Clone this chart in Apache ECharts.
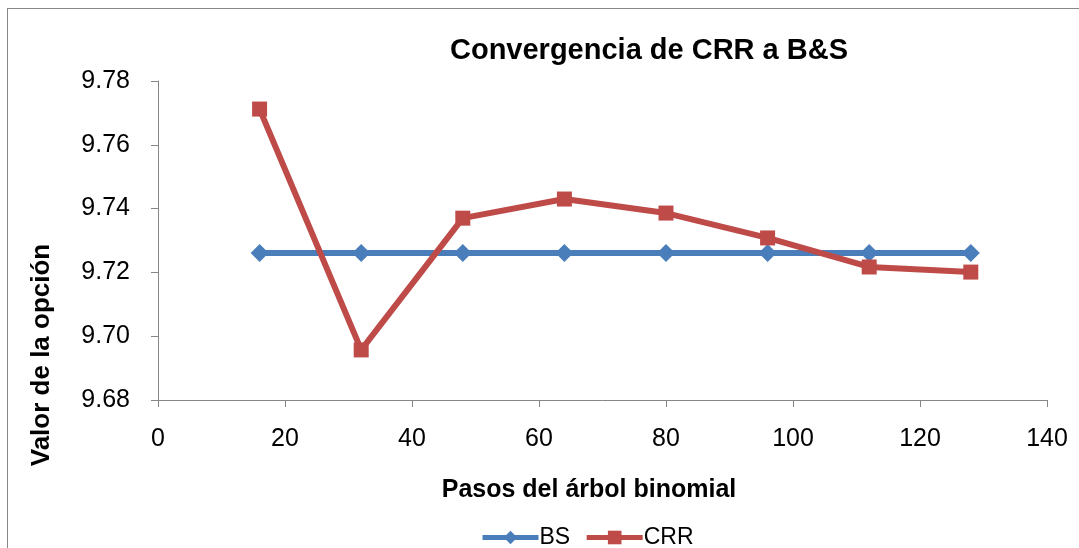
<!DOCTYPE html>
<html>
<head>
<meta charset="utf-8">
<script src="https://cdn.jsdelivr.net/npm/echarts@6/dist/echarts.min.js"></script>
<style>
  html, body { margin: 0; padding: 0; background: #fff; overflow: hidden; }
  #frame { position: absolute; left: 7px; top: 8px; width: 2000px; height: 2000px; border: 1px solid #888; }
  #chart { position: absolute; left: 0; top: 0; width: 1079px; height: 548px; }
</style>
</head>
<body>
<div id="frame"></div>
<div id="chart"></div>
<script>
const steps = [16, 32, 48, 64, 80, 96, 112, 128];
const bsValues = [9.7261, 9.7261, 9.7261, 9.7261, 9.7261, 9.7261, 9.7261, 9.7261];
const crrValues = [9.7712, 9.6957, 9.7370, 9.7430, 9.7386, 9.7308, 9.7217, 9.7201];

const font = '"Liberation Sans", Arial, sans-serif';
const axisColor = '#868686';

const chart = echarts.init(document.getElementById('chart'));

chart.setOption({
  animation: false,
  textStyle: { fontFamily: font },
  title: {
    text: 'Convergencia de CRR a B&S',
    left: 644,
    top: 31,
    textAlign: 'center',
    textStyle: { fontFamily: font, fontSize: 29, fontWeight: 'bold', color: '#000' }
  },
  grid: { left: 158, right: 32, top: 81, bottom: 148 },
  xAxis: {
    type: 'value',
    min: 0,
    max: 140,
    interval: 20,
    axisLine: { lineStyle: { color: axisColor, width: 1 } },
    axisTick: { show: true, length: 7, lineStyle: { color: axisColor } },
    axisLabel: { color: '#000', fontSize: 25, margin: 27, fontFamily: font },
    splitLine: { show: false }
  },
  yAxis: {
    type: 'value',
    min: 9.68,
    max: 9.78,
    interval: 0.02,
    axisLine: { show: true, lineStyle: { color: axisColor, width: 1 } },
    axisTick: { show: true, length: 7, lineStyle: { color: axisColor } },
    axisLabel: {
      color: '#000', fontSize: 25, margin: 28, fontFamily: font,
      formatter: v => v.toFixed(2)
    },
    splitLine: { show: false }
  },
  legend: {
    bottom: -6,
    left: 475,
    itemWidth: 56,
    itemHeight: 17,
    itemGap: 14,
    lineStyle: { width: 5 },
    textStyle: { fontSize: 23, color: '#000', fontFamily: font, padding: [0, 0, 0, -4] },
    data: ['BS', 'CRR']
  },
  graphic: [
    {
      type: 'text',
      x: 42, y: 355,
      rotation: Math.PI / 2,
      style: {
        text: 'Valor de la opción',
        fontFamily: font, fontSize: 26, fontWeight: 'bold', fill: '#000',
        align: 'center', verticalAlign: 'middle'
      }
    },
    {
      type: 'text',
      x: 589, y: 490,
      style: {
        text: 'Pasos del árbol binomial',
        fontFamily: font, fontSize: 25, fontWeight: 'bold', fill: '#000',
        align: 'center', verticalAlign: 'middle'
      }
    }
  ],
  series: [
    {
      name: 'BS',
      type: 'line',
      data: steps.map((s, i) => [s, bsValues[i]]),
      symbol: 'diamond',
      symbolSize: 18,
      color: '#4A7EBB',
      lineStyle: { width: 6, color: '#4A7EBB' },
      itemStyle: { color: '#4A7EBB' }
    },
    {
      name: 'CRR',
      type: 'line',
      data: steps.map((s, i) => [s, crrValues[i]]),
      symbol: 'rect',
      symbolSize: 15,
      color: '#BE4B48',
      lineStyle: { width: 6, color: '#BE4B48' },
      itemStyle: { color: '#BE4B48' }
    }
  ]
});
</script>
</body>
</html>
